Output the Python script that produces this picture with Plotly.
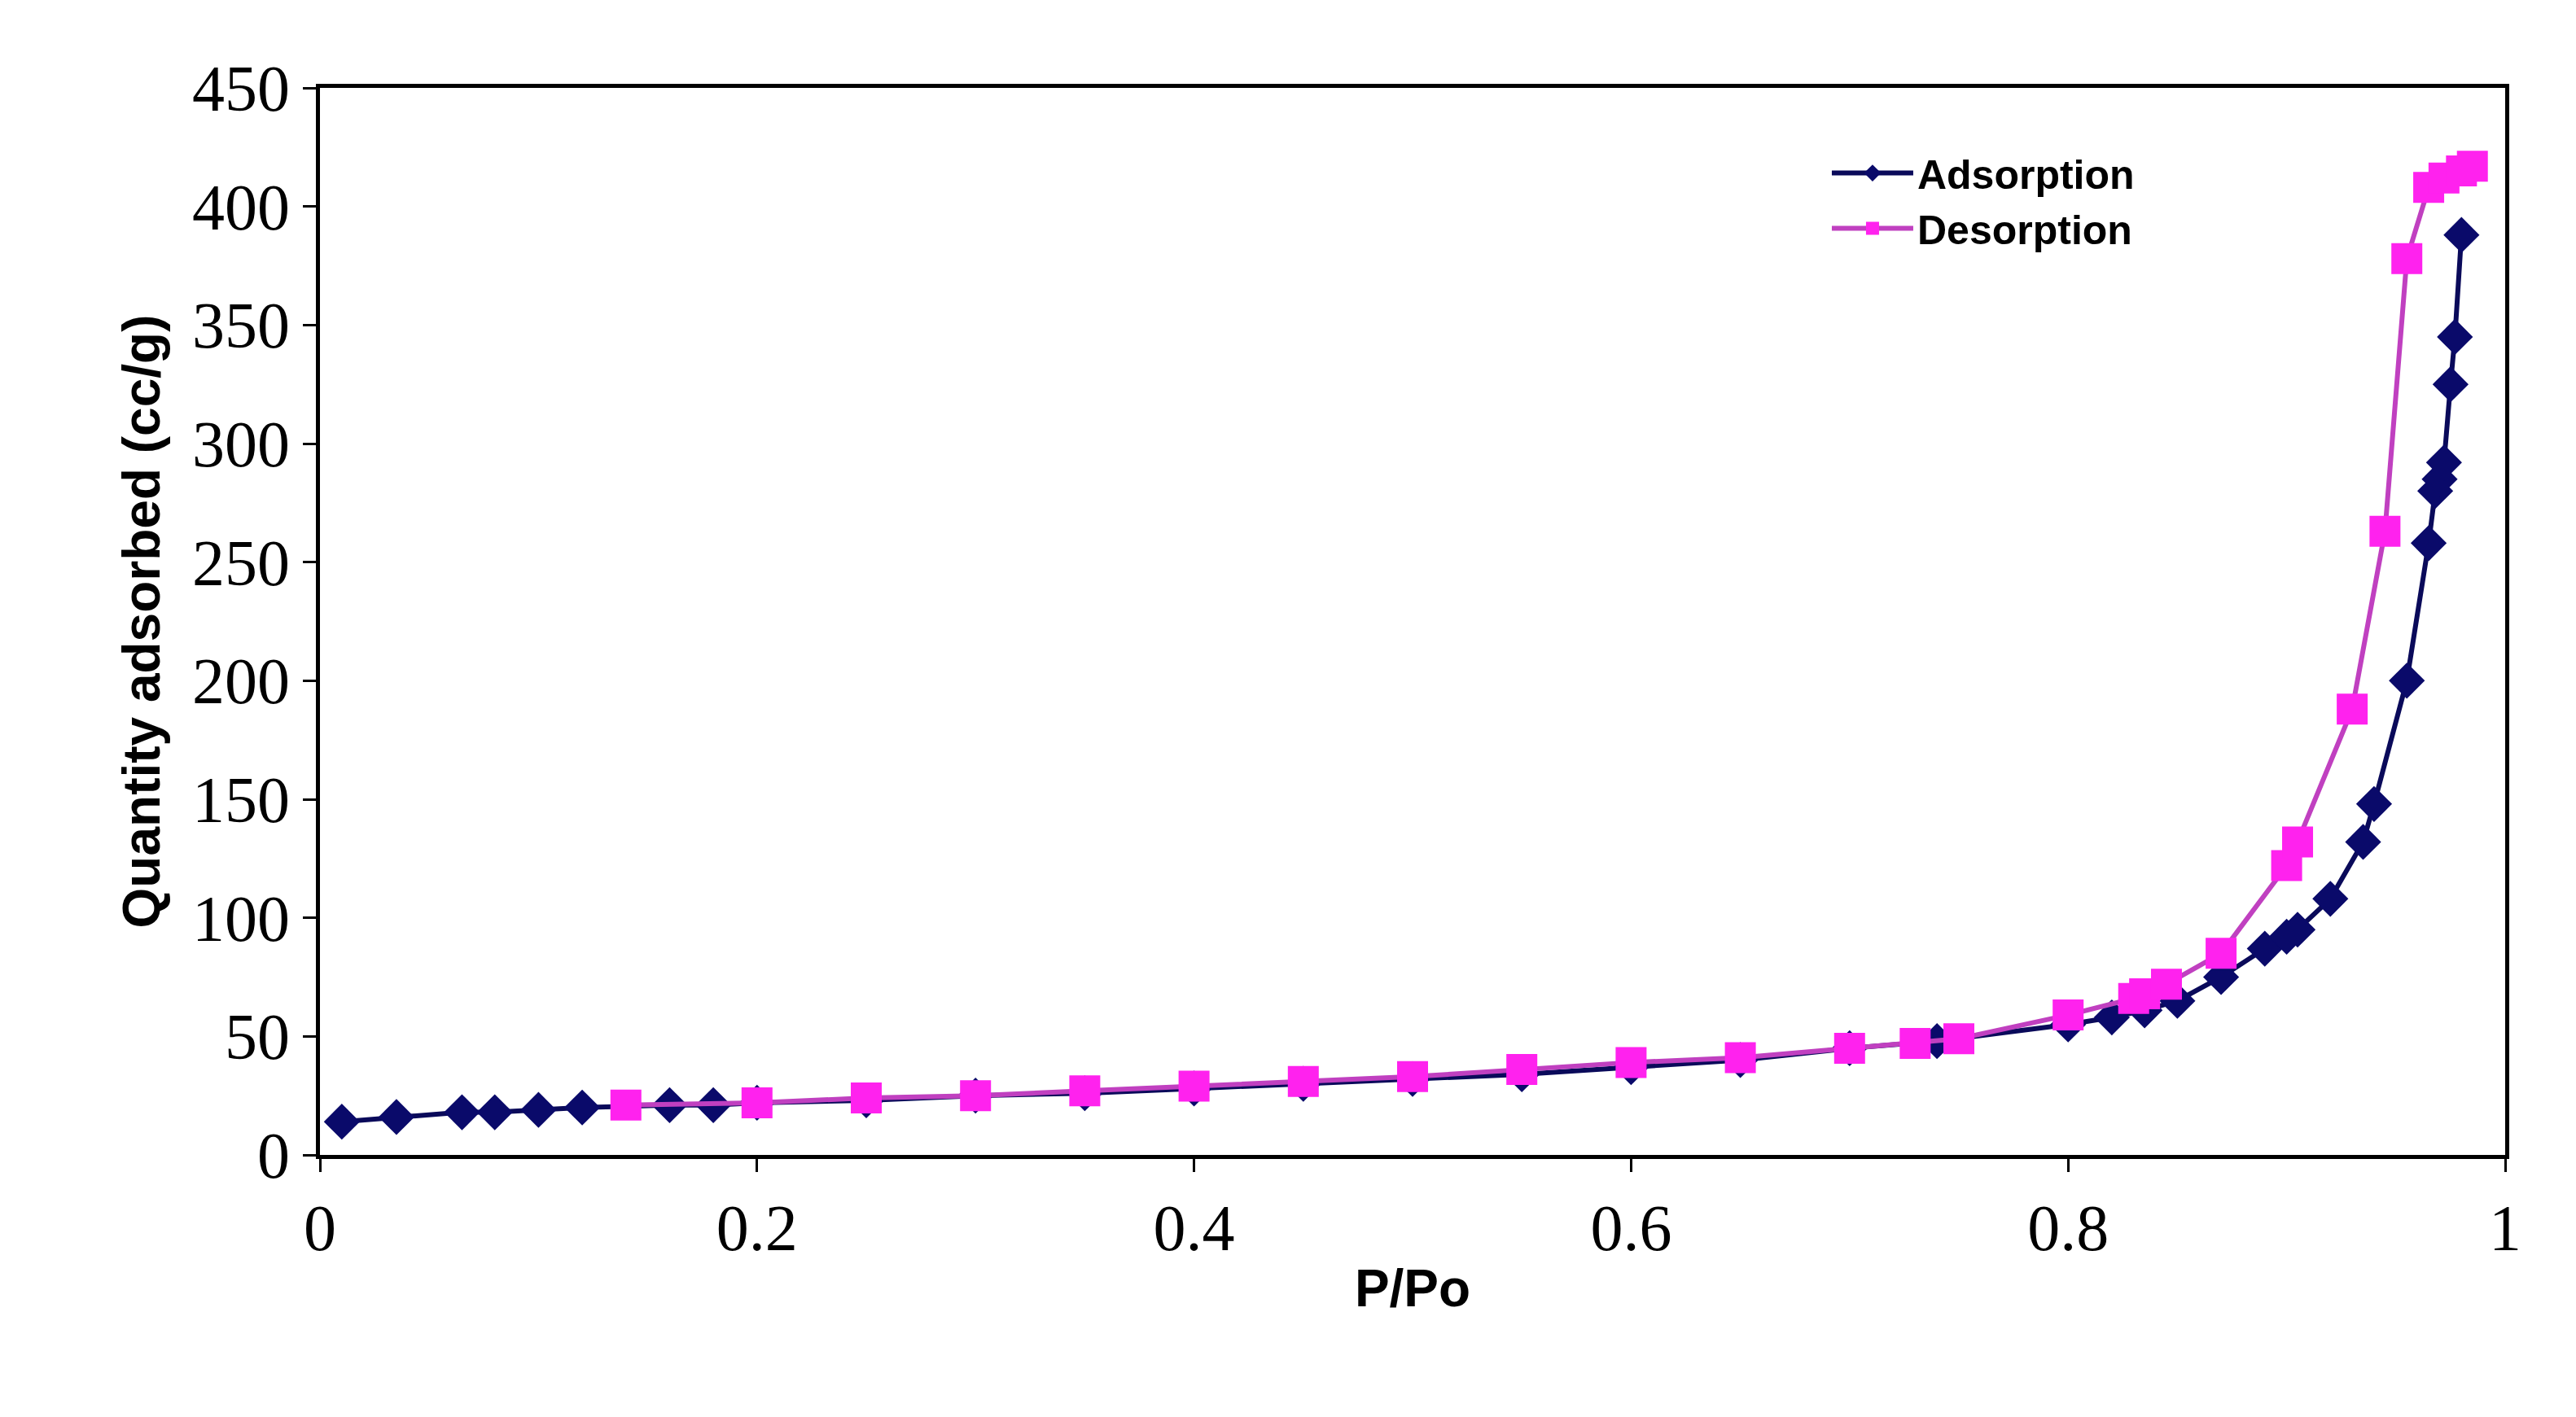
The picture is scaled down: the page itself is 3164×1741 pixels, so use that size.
import plotly.graph_objects as go

ads_x = [0.01,0.035,0.065,0.08,0.1,0.12,0.16,0.18,0.2,0.25,0.3,0.35,0.4,0.45,0.5,0.55,0.6,0.65,0.7,0.74,0.8,0.82,0.835,0.85,0.87,0.89,0.9,0.905,0.92,0.935,0.94,0.955,0.965,0.968,0.97,0.972,0.975,0.977,0.98]
ads_y = [14,16,18,18,19,20,21,21,22,23,25,26,28,30,32,34,37,40,45,48,55,58,61,65,75,87,92,95,108,132,148,200,258,280,285,292,325,345,388]
des_x = [0.14,0.2,0.25,0.3,0.35,0.4,0.45,0.5,0.55,0.6,0.65,0.7,0.73,0.75,0.8,0.83,0.835,0.845,0.87,0.9,0.905,0.93,0.945,0.955,0.965,0.972,0.98,0.985]
des_y = [21,22,24,25,27,29,31,33,36,39,41,45,47,49,59,66,68,72,85,122,132,188,263,378,408,412,415,417]

fig = go.Figure()
fig.add_trace(go.Scatter(x=ads_x, y=ads_y, name="Adsorption", mode="lines+markers",
    line=dict(color="#0a0a5a", width=6), marker=dict(symbol="diamond", size=34, color="#0a0a6a")))
fig.add_trace(go.Scatter(x=des_x, y=des_y, name="Desorption", mode="lines+markers",
    line=dict(color="#c040c0", width=6), marker=dict(symbol="square", size=38, color="#ff22ee")))

axis_common = dict(showgrid=False, zeroline=False, showline=True, linecolor="black", linewidth=5,
                   ticks="outside", ticklen=16, tickwidth=3, tickcolor="black",
                   tickfont=dict(family="Liberation Serif, Times New Roman, serif", size=80, color="black"))
fig.update_xaxes(range=[0, 1], dtick=0.2, mirror=True,
                 title=dict(text="<b>P/Po</b>", font=dict(family="Liberation Sans, Arial", size=64, color="black"), standoff=10),
                 **axis_common)
fig.update_yaxes(range=[0, 450], dtick=50, mirror=True,
                 title=dict(text="<b>Quantity adsorbed (cc/g)</b>", font=dict(family="Liberation Sans, Arial", size=64, color="black"), standoff=20),
                 **axis_common)
fig.update_layout(width=3164, height=1741, plot_bgcolor="white", paper_bgcolor="white",
                  margin=dict(l=385, r=95, t=100, b=330),
                  legend=dict(x=0.69, y=0.95, xanchor="left", yanchor="top", bgcolor="rgba(0,0,0,0)",
                              font=dict(family="Liberation Sans, Arial", size=50, color="black", weight="bold"), itemwidth=100))
fig.write_html("out.html")
